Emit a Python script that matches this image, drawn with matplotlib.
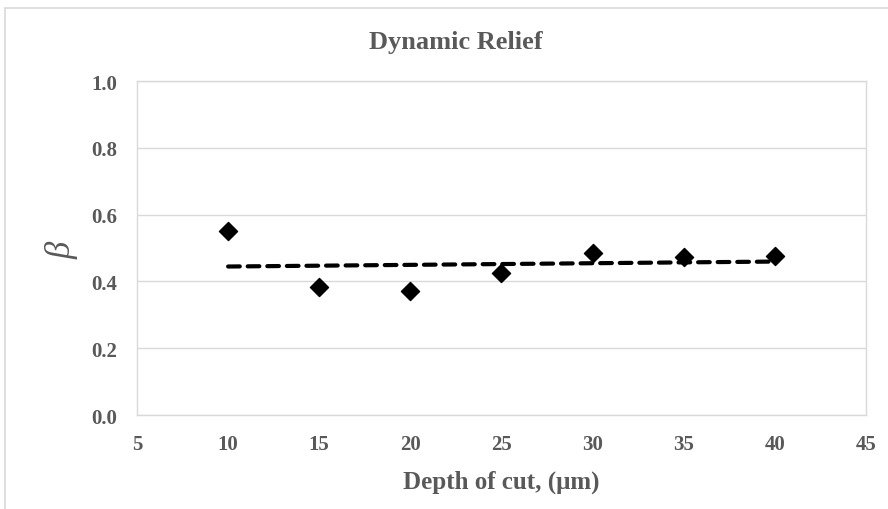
import numpy as np
import matplotlib
matplotlib.use("Agg")
import matplotlib.pyplot as plt
from matplotlib.patches import Rectangle

# data
depth = [10, 15, 20, 25, 30, 35, 40]
beta = [0.551, 0.383, 0.371, 0.425, 0.485, 0.473, 0.476]
x_ticks = [5, 10, 15, 20, 25, 30, 35, 40, 45]
y_ticks = [0.0, 0.2, 0.4, 0.6, 0.8, 1.0]

text_color = "#595959"
grid_color = "#d9d9d9"
font = ["Liberation Serif", "DejaVu Serif"]

fig = plt.figure(figsize=(8.88, 5.10), dpi=100)
ax = fig.add_axes([0.1543, 0.1843, 0.8207, 0.6549])

# outer chart border (cropped on the right and bottom)
fig.patches.append(Rectangle((5 / 888, -0.1), 1.2, 1.1 - 9 / 510, transform=fig.transFigure,
                             fill=False, edgecolor=grid_color, linewidth=1.2, zorder=0))

# linear trend line over the data range
coef = np.polyfit(depth, beta, 1)
xt = np.array([depth[0], depth[-1]])
ax.plot(xt, np.polyval(coef, xt), color="black", linestyle=(0, (2.8, 1.9)),
        linewidth=3, dash_capstyle="round", zorder=2)
ax.scatter(depth, beta, marker="D", s=85, color="black", zorder=3)

ax.set_xlim(5, 45)
ax.set_ylim(0, 1.0)
ax.set_xticks(x_ticks)
ax.set_yticks(y_ticks)
ax.set_yticklabels([f"{v:.1f}" for v in y_ticks])
ax.grid(axis="y", color=grid_color, linewidth=1)
ax.set_axisbelow(True)
for s in ax.spines.values():
    s.set_color(grid_color)
    s.set_linewidth(1)
ax.tick_params(length=0, pad=14, labelsize=15, colors=text_color)
for lab in ax.get_xticklabels() + ax.get_yticklabels():
    lab.set_family(font)
    lab.set_fontweight("bold")

fig.text(0.513, 1 - 42 / 510, "Dynamic Relief", ha="center", va="center", fontsize=19,
         fontweight="bold", color=text_color, family=font)
fig.text(0.565, 1 - 482 / 510, "Depth of cut, (\u03bcm)", ha="center", va="center",
         fontsize=18, fontweight="bold", color=text_color, family=font)
fig.text(62 / 888, 1 - 250 / 510, "\u03b2", ha="center", va="center", fontsize=25,
         style="italic", rotation=90, color=text_color, family=font)

fig.savefig("out.png", dpi=100)
plt.close(fig)
